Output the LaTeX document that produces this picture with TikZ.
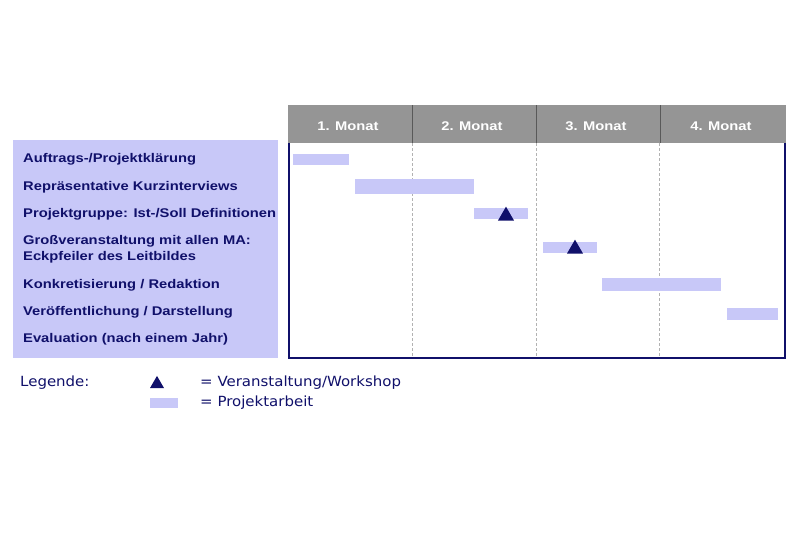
\documentclass[tikz,border=0pt]{standalone}
\usepackage{fontspec}
\setmainfont{Liberation Sans}
\newfontfamily\widefont[FakeStretch=1.17]{Liberation Sans}
\newfontfamily\legfont[FakeStretch=1.07]{DejaVu Sans}
\usetikzlibrary{shapes.geometric}
\definecolor{navy}{HTML}{10106A}
\definecolor{lav}{HTML}{C8C8F8}
\definecolor{hgray}{HTML}{959595}
\begin{document}
\begin{tikzpicture}[x=1pt,y=-1pt,
  lbl/.style={anchor=west,text=navy,font=\widefont\bfseries\fontsize{12.6}{14}\selectfont,inner sep=0},
  hdr/.style={text=white,font=\widefont\bfseries\fontsize{12.6}{14}\selectfont,inner sep=0},
  bar/.style={fill=lav,draw=none},
  evt/.style={isosceles triangle,isosceles triangle apex angle=60,shape border rotate=90,fill=navy,inner sep=0,minimum height=14pt,minimum width=16pt},
  leg/.style={anchor=west,text=navy,font=\legfont\fontsize{14}{16}\selectfont,inner sep=0},
  grid/.style={draw=gray!60,densely dashed,line width=0.8pt}]
\useasboundingbox (0,0) rectangle (800,533);
\fill[white] (0,0) rectangle (800,533);
% left panel
\fill[lav] (13,140) rectangle (278,358);
\node[lbl] (t1) at (23,159.5) {Auftrags-/Projektklärung};
\node[lbl] (t2) at (23,187.5) {Repräsentative Kurzinterviews};
\node[lbl] (t3) at (23,214.5) {Projektgruppe: Ist-/Soll Definitionen};
\node[lbl] (t4) at (23,241.5) {Großveranstaltung mit allen MA:};
\node[lbl] (t4b) at (23,257.5) {Eckpfeiler des Leitbildes};
\node[lbl] (t5) at (23,285.5) {Konkretisierung / Redaktion};
\node[lbl] (t6) at (23,312.5) {Veröffentlichung / Darstellung};
\node[lbl] (t7) at (23,339.5) {Evaluation (nach einem Jahr)};
% header
\fill[hgray] (288,105) rectangle (786,143);
\draw[gray!70!black,line width=0.6pt] (412,105) -- (412,143) (536,105) -- (536,143) (660,105) -- (660,143);
\node[hdr] (m1) at (348,126) {1. Monat};
\node[hdr] (m2) at (472,126) {2. Monat};
\node[hdr] (m3) at (596,126) {3. Monat};
\node[hdr] (m4) at (721,126) {4. Monat};
% grid
\draw[grid] (412,143) -- (412,358) (536,143) -- (536,358) (659,143) -- (659,358);
% bars
\fill[bar] (293,154) rectangle (349,165);
\fill[bar] (355,179) rectangle (474,194);
\fill[bar] (474,208) rectangle (528,219);
\fill[bar] (543,242) rectangle (597,253);
\fill[bar] (602,278) rectangle (721,291);
\fill[bar] (727,308) rectangle (778,320);
\node[evt] (e1) at (506,216) {};
\node[evt] (e2) at (575,249) {};
% frame
\draw[navy,line width=1.8pt] (289,143) -- (289,358) -- (785,358) -- (785,143);
% legend
\node[leg] (lg) at (20,383) {Legende:};
\node[evt,minimum height=11pt,minimum width=14pt] (le) at (157,384) {};
\node[leg] (lt1) at (200,383) {= Veranstaltung/Workshop};
\fill[lav] (150,398) rectangle (178,408);
\node[leg] (lt2) at (200,403) {= Projektarbeit};
\end{tikzpicture}
\end{document}
